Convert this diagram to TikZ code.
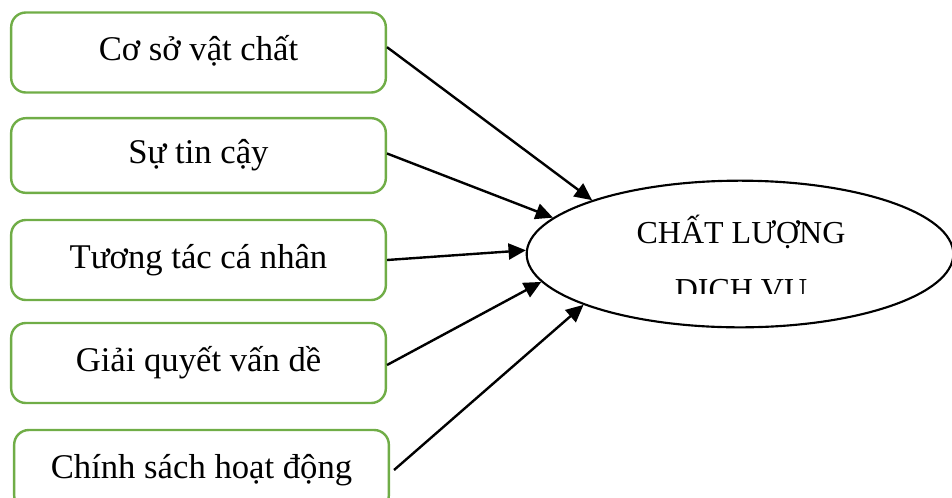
\documentclass[tikz,border=0pt]{standalone}
\usepackage{fontspec}
\setmainfont{Liberation Serif}
\usetikzlibrary{shapes.geometric,arrows.meta}
\definecolor{boxgreen}{HTML}{70AD47}
\tikzset{
  factor/.style={draw=boxgreen, line width=1.8pt, rounded corners=11pt,
    minimum width=281pt, minimum height=60pt, inner sep=0pt,
    text height=17pt, text depth=5pt,
    font=\fontsize{26}{31}\selectfont},
  outcome/.style={draw=black, line width=1.6pt, ellipse,
    minimum width=320pt, minimum height=110pt, inner sep=0pt},
  link/.style={line width=1.8pt, -{Triangle[length=13pt,width=12pt]}}
}
\begin{document}
\begin{tikzpicture}[x=0.75pt,y=-0.75pt]
  \useasboundingbox (0,0) rectangle (952,497);

  % factor boxes on the left
  \node[factor] (b1) at (198.5,52.5) {Cơ sở vật chất};
  \node[factor, minimum height=56pt] (b2) at (198.5,155.5) {Sự tin cậy};
  \node[factor] (b3) at (198.5,260) {Tương tác cá nhân};
  \node[factor] (b4) at (198.5,363) {Giải quyết vấn dề};
  \node[factor] (b5) at (201.5,470) {Chính sách hoạt động};

  % outcome ellipse
  \node[outcome] (ell) at (740,254) {};
  \begin{scope}
    \clip (560,190) rectangle (920,293);
    \node[font=\fontsize{24}{42.75}\selectfont, align=center, anchor=base]
      (title) at (741,300) {CHẤT LƯỢNG\\DỊCH VỤ};
  \end{scope}

  % arrows into the ellipse
  \draw[link] ([yshift=4pt]b1.east) -- (ell.160.2);
  \draw[link] ([yshift=1.5pt]b2.east) -- (ell.169.7);
  \draw[link] (b3.east) -- (ell.179.7);
  \draw[link] ([yshift=-1.5pt]b4.east) -- (ell.188.8);
  \draw[link] ([xshift=3pt]b5.east) -- (ell.198.9);
\end{tikzpicture}
\end{document}
